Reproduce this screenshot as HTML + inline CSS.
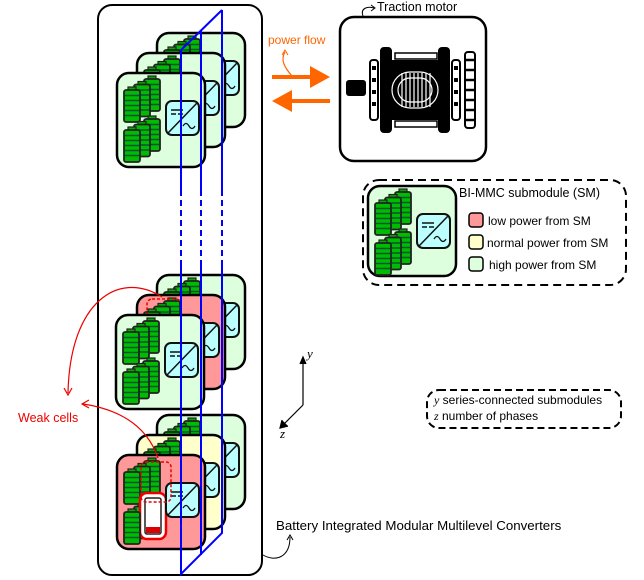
<!DOCTYPE html>
<html><head><meta charset="utf-8"><style>
html,body{margin:0;padding:0;background:#fff}
svg{display:block;font-family:"Liberation Sans","DejaVu Sans",sans-serif}
</style></head><body>
<svg width="644" height="580" viewBox="0 0 644 580" xmlns="http://www.w3.org/2000/svg">
<defs>
<g id="bat">
  <rect x="4" y="-3" width="8" height="4" fill="#0a0" stroke="#222" stroke-width="1.2"/>
  <rect x="0" y="0" width="16" height="32" rx="2" fill="#0b0" stroke="#222" stroke-width="1.8"/>
  <path d="M1 5.5h14M1 10.5h14M1 15.5h14M1 20.5h14M1 25.5h14" stroke="#053" stroke-width="1.6"/>
</g>
<g id="stack">
  <use href="#bat" x="20" y="-11"/>
  <use href="#bat" x="10" y="-5.5"/>
  <use href="#bat" x="0" y="0"/>
</g>
<g id="conv">
  <rect x="0" y="0" width="33" height="34" rx="6" fill="#bff" stroke="#111" stroke-width="2"/>
  <path d="M2 32L31 2" stroke="#111" stroke-width="1.5"/>
  <path d="M5 9h12M5 13h5M12 13h5" stroke="#111" stroke-width="1.5"/>
  <path d="M17 25q3-5 6 0t6 0" fill="none" stroke="#111" stroke-width="1.3"/>
</g>
<g id="inner">
  <use href="#stack" x="7" y="17"/>
  <use href="#stack" x="7" y="57"/>
  <use href="#conv" x="49" y="28"/>
</g>
</defs>

<rect x="98" y="5" width="164" height="570" rx="14" fill="none" stroke="#000" stroke-width="2"/>

<g transform="translate(157,33)"><rect x="0" y="0" width="88" height="94" rx="12" fill="#dfd" stroke="#000" stroke-width="2.5"/><use href="#inner"/></g>
<g transform="translate(137,53)"><rect x="0" y="0" width="88" height="94" rx="12" fill="#dfd" stroke="#000" stroke-width="2.5"/><use href="#inner"/></g>
<g transform="translate(117,73)"><rect x="0" y="0" width="88" height="94" rx="12" fill="#dfd" stroke="#000" stroke-width="2.5"/><use href="#inner"/></g>

<g transform="translate(157,275)"><rect x="0" y="0" width="88" height="94" rx="12" fill="#dfd" stroke="#000" stroke-width="2.5"/><use href="#inner"/></g>
<g transform="translate(137,295)"><rect x="0" y="0" width="88" height="94" rx="12" fill="#f99" stroke="#000" stroke-width="2.5"/><use href="#inner"/></g>
<rect x="147" y="299" width="34" height="25" rx="5" fill="none" stroke="#e00" stroke-width="1.5" stroke-dasharray="3,2"/>
<g transform="translate(116,315)"><rect x="0" y="0" width="88" height="94" rx="12" fill="#dfd" stroke="#000" stroke-width="2.5"/><use href="#inner"/></g>

<g transform="translate(157,415)"><rect x="0" y="0" width="88" height="94" rx="12" fill="#dfd" stroke="#000" stroke-width="2.5"/><use href="#inner"/></g>
<g transform="translate(137,435)"><rect x="0" y="0" width="88" height="94" rx="12" fill="#ffc" stroke="#000" stroke-width="2.5"/><use href="#inner"/></g>
<g transform="translate(117,455)"><rect x="0" y="0" width="88" height="94" rx="12" fill="#f99" stroke="#000" stroke-width="2.5"/>
  <use href="#stack" x="7" y="17"/>
  <use href="#bat" x="27" y="46"/>
  <use href="#bat" x="17" y="51.5"/>
  <rect x="23" y="38" width="26" height="46" rx="7" fill="#fff" stroke="#e00" stroke-width="2.5"/>
  <rect x="28" y="43" width="16" height="36" rx="2" fill="#fff" stroke="#222" stroke-width="1.5"/>
  <rect x="29" y="72" width="14" height="6" fill="#d00"/>
  <use href="#bat" x="7" y="57"/>
  <use href="#conv" x="49" y="28"/>
</g>
<rect x="141" y="462" width="30" height="40" rx="5" fill="none" stroke="#e00" stroke-width="1.5" stroke-dasharray="3,2"/>

<g stroke="#00f" stroke-width="2" fill="none">
  <path d="M181 50L222 10"/>
  <path d="M181 50V190M181 265V574L222 533V265M222 190V10"/>
  <path d="M201 30V190M201 265V555"/>
  <path d="M181 190V265M201 190V265M222 190V265" stroke-dasharray="6,4"/>
</g>

<g stroke="#e00" stroke-width="1.2" fill="none">
  <path d="M162 297C120 270 70 300 68 393"/>
  <path d="M64 388L68 395L72 388"/>
  <path d="M158 458C145 420 110 408 83 404"/>
  <path d="M89 400L82 404L89 408"/>
</g>
<text x="18" y="422" font-size="12.5" fill="#e00">Weak cells</text>

<text x="268" y="44" font-size="12" fill="#f60">power flow</text>
<path d="M292 76C285 68 280 60 285 52" stroke="#f60" stroke-width="1.2" fill="none"/>
<path d="M282 55L285 50L288 55" stroke="#f60" stroke-width="1" fill="none"/>
<path d="M272 77H312" stroke="#f60" stroke-width="4"/>
<path d="M310 66L330 77L310 88Z" fill="#f60"/>
<path d="M330 101H290" stroke="#f60" stroke-width="4"/>
<path d="M292 90L272 101L292 112Z" fill="#f60"/>

<text x="377" y="11" font-size="12.5" fill="#000">Traction motor</text>
<path d="M363 16C360 8 368 6 374 8" stroke="#000" stroke-width="1" fill="none"/>
<path d="M371 5L375 8L371 11" stroke="#000" stroke-width="1" fill="none"/>
<rect x="340" y="17" width="146" height="144" rx="14" fill="#fff" stroke="#000" stroke-width="2.5"/>
<g fill="#000">
  <rect x="346" y="80" width="20" height="16" rx="3"/>
  <rect x="370" y="60" width="8" height="60" rx="3" fill="#fff" stroke="#000" stroke-width="2"/>
  <rect x="372" y="66" width="4" height="4"/><rect x="372" y="78" width="4" height="4"/><rect x="372" y="90" width="4" height="4"/><rect x="372" y="102" width="4" height="4"/>
  <rect x="380" y="47" width="12" height="86" rx="4"/>
  <rect x="438" y="47" width="12" height="86" rx="4"/>
  <rect x="386" y="60" width="58" height="60" rx="3"/>
  <rect x="395" y="53" width="42" height="6" fill="#fff" stroke="#000" stroke-width="1.5"/>
  <rect x="395" y="121" width="42" height="6" fill="#fff" stroke="#000" stroke-width="1.5"/>
  <rect x="452" y="60" width="8" height="60" rx="3" fill="#fff" stroke="#000" stroke-width="2"/>
  <rect x="454" y="66" width="4" height="4"/><rect x="454" y="78" width="4" height="4"/><rect x="454" y="90" width="4" height="4"/><rect x="454" y="102" width="4" height="4"/>
  <rect x="465" y="52" width="10" height="76" rx="3" fill="#fff" stroke="#000" stroke-width="2"/>
  <path d="M464 60h12M464 70h12M464 80h12M464 90h12M464 100h12M464 110h12M464 120h12" stroke="#000" stroke-width="2.5"/>
</g>
<g fill="none" stroke="#fff" stroke-width="1.2">
  <rect x="392" y="72" width="46" height="36" rx="18"/>
  <rect x="398" y="78" width="34" height="24" rx="12"/>
  <path d="M402 73v34M406 73v34M410 73v34M414 73v34M418 73v34M422 73v34M426 73v34M430 73v34"/>
</g>

<rect x="363" y="180" width="263" height="105" rx="16" fill="none" stroke="#000" stroke-width="2" stroke-dasharray="8,5"/>
<g transform="translate(368,186)"><rect x="0" y="0" width="88" height="90" rx="12" fill="#dfd" stroke="#000" stroke-width="2.5"/><use href="#inner"/></g>
<text x="459" y="197" font-size="12.5">BI-MMC submodule (SM)</text>
<rect x="469" y="213" width="14" height="14" rx="3" fill="#f99" stroke="#000" stroke-width="1.5"/>
<rect x="469" y="235" width="14" height="14" rx="3" fill="#ffc" stroke="#000" stroke-width="1.5"/>
<rect x="469" y="257" width="14" height="14" rx="3" fill="#dfd" stroke="#000" stroke-width="1.5"/>
<text x="488" y="225" font-size="12">low power from SM</text>
<text x="487" y="247" font-size="12">normal power from SM</text>
<text x="489" y="269" font-size="12">high power from SM</text>

<g stroke="#000" stroke-width="1.2" fill="none">
  <path d="M303 405V358"/><path d="M300 364L303 357L306 364" fill="#000"/>
  <path d="M303 405L281 427"/><path d="M282 420L280 428L288 426" fill="#000"/>
</g>
<text x="307" y="358" font-size="13" font-style="italic" font-family="Liberation Serif,serif">y</text>
<text x="280" y="438" font-size="13" font-style="italic" font-family="Liberation Serif,serif">z</text>

<rect x="427" y="390" width="194" height="38" rx="12" fill="none" stroke="#000" stroke-width="2" stroke-dasharray="7,4"/>
<text x="434" y="404" font-size="12"><tspan font-style="italic" font-family="Liberation Serif,serif">y</tspan> series-connected submodules</text>
<text x="434" y="420" font-size="12"><tspan font-style="italic" font-family="Liberation Serif,serif">z</tspan> number of phases</text>

<text x="276" y="530" font-size="13.3">Battery Integrated Modular Multilevel Converters</text>
<path d="M263 555C275 562 290 558 290 537" stroke="#000" stroke-width="1" fill="none"/>
<path d="M287 540L290 535L293 540" stroke="#000" stroke-width="1" fill="none"/>
</svg>
</body></html>
